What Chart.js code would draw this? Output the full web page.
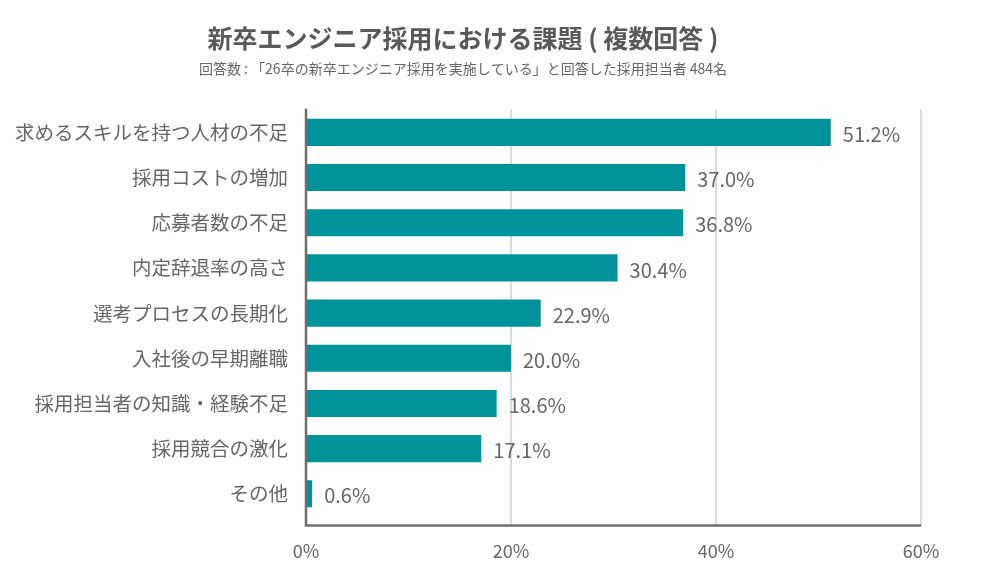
<!DOCTYPE html>
<html>
<head>
<meta charset="utf-8">
<script src="https://cdn.jsdelivr.net/npm/chart.js@4"></script>
<style>
  body { margin: 0; background: #fff; }
  #wrap { width: 993px; height: 585px; }
</style>
</head>
<body>
<div id="wrap"><canvas id="myChart"></canvas></div>
<script>
var labels = ['求めるスキルを持つ人材の不足', '採用コストの増加', '応募者数の不足', '内定辞退率の高さ',
	'選考プロセスの長期化', '入社後の早期離職', '採用担当者の知識・経験不足', '採用競合の激化', 'その他'];
var values = [51.2, 37.0, 36.8, 30.4, 22.9, 20.0, 18.6, 17.1, 0.6];
var ticks = [0, 20, 40, 60];

var fontName = "'Noto Sans CJK JP', 'Noto Sans', sans-serif";
var grey = '#666666';
var axisDrop = 9; // x axis line sits a bit below the last bar band

// value text right of each bar, plus the L-shaped axis lines
var valueLabels = {
	id: 'valueLabels',
	afterDatasetsDraw: function(chart) {
		var ctx = chart.ctx;
		var meta = chart.getDatasetMeta(0);
		ctx.save();
		ctx.font = '20px ' + fontName;
		ctx.fillStyle = grey;
		ctx.textBaseline = 'middle';
		meta.data.forEach(function(bar, i) {
			ctx.fillText(values[i].toFixed(1) + '%', bar.x + 12, bar.y + 2);
		});
		var a = chart.chartArea;
		ctx.strokeStyle = '#6e6e6e';
		ctx.lineWidth = 2.5;
		ctx.beginPath();
		ctx.moveTo(a.left, a.top - 1);
		ctx.lineTo(a.left, a.bottom + axisDrop);
		ctx.lineTo(a.right, a.bottom + axisDrop);
		ctx.stroke();
		ctx.restore();
	}
};

var myChart = document.getElementById('myChart').getContext('2d');

var chart = new Chart(myChart, {
	type: 'bar',
	data: {
		labels: labels,
		datasets: [{
			data: values,
			backgroundColor: '#00939a',
			categoryPercentage: 0.6,
			barPercentage: 1.0
		}]
	},
	plugins: [valueLabels],
	options: {
		indexAxis: 'y',
		responsive: true,
		maintainAspectRatio: false,
		animation: false,
		layout: { padding: { left: 5, right: 72, top: 0, bottom: 8 } },
		plugins: {
			legend: { display: false },
			tooltip: { enabled: false },
			title: {
				display: true,
				text: '新卒エンジニア採用における課題 ( 複数回答 )',
				color: '#595959',
				font: { family: fontName, size: 25, weight: 'bold' },
				padding: { top: 23, bottom: 7 }
			},
			subtitle: {
				display: true,
				text: '回答数 : 「26卒の新卒エンジニア採用を実施している」と回答した採用担当者 484名',
				color: grey,
				font: { family: fontName, size: 14 },
				padding: { bottom: 33 }
			}
		},
		scales: {
			x: {
				min: 0,
				max: 60,
				afterBuildTicks: function(axis) {
					axis.ticks = ticks.map(function(v) { return { value: v }; });
				},
				grid: { color: '#dcdcdc', lineWidth: 2, drawTicks: true, tickLength: axisDrop },
				border: { display: false },
				ticks: {
					color: grey,
					padding: 15,
					font: { family: fontName, size: 18 },
					callback: function(v) { return v + '%'; }
				}
			},
			y: {
				grid: { display: false },
				border: { display: false },
				ticks: {
					color: grey,
					padding: 10,
					font: { family: fontName, size: 19.5 }
				}
			}
		}
	}
});
</script>
</body>
</html>
